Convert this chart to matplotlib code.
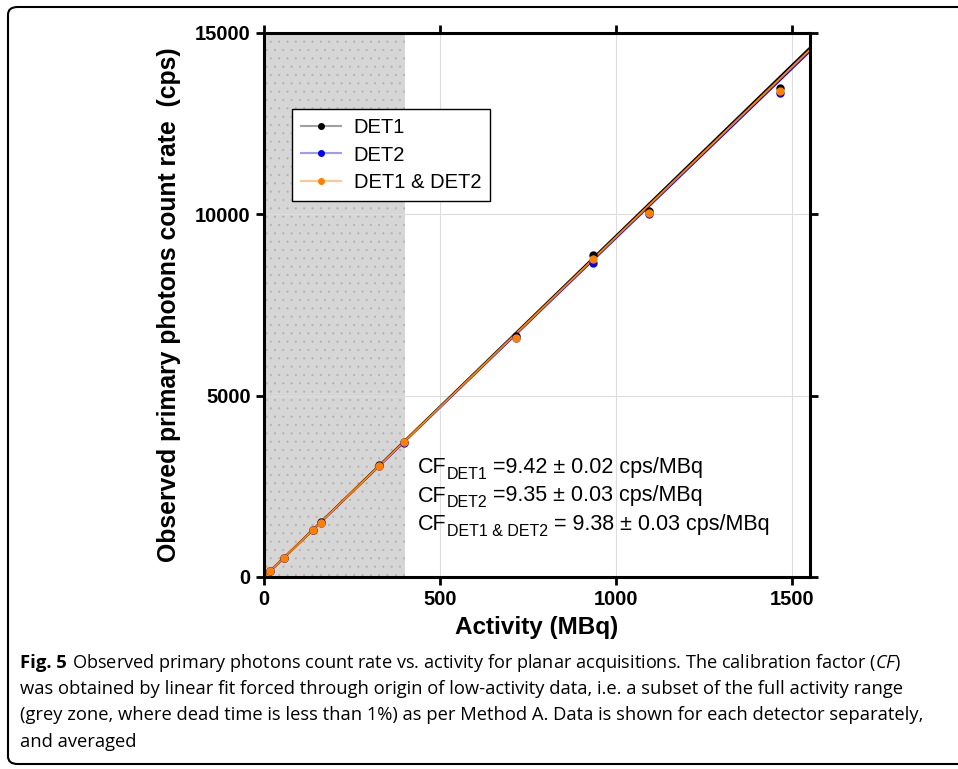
import matplotlib.pyplot as plt
from matplotlib.lines import Line2D
from matplotlib.patches import FancyBboxPatch

plt.rcParams['font.family'] = ['Liberation Sans', 'DejaVu Sans']
plt.rcParams['mathtext.fontset'] = 'custom'
plt.rcParams['mathtext.rm'] = 'Liberation Sans'
plt.rcParams['mathtext.it'] = 'Open Sans:italic'
plt.rcParams['hatch.linewidth'] = 0.3

# Data
activity = [17, 56, 140, 162, 326, 398, 716, 933, 1094, 1465]
det1 = [160, 525, 1300, 1510, 3085, 3735, 6640, 8880, 10100, 13470]
det2 = [155, 515, 1285, 1495, 3060, 3705, 6580, 8665, 10010, 13335]
det12 = [158, 520, 1292, 1502, 3072, 3720, 6600, 8770, 10040, 13400]
cf = {'DET1': 9.42, 'DET2': 9.35, 'DET1 & DET2': 9.38}
cf_text = [('DET1', ' =9.42 ± 0.02 cps/MBq'),
           ('DET2', ' =9.35 ± 0.03 cps/MBq'),
           ('DET1 & DET2', ' = 9.38 ± 0.03 cps/MBq')]
grey_zone = (0, 400)
x_max = 1550
x_ticks = [0, 500, 1000, 1500]
y_ticks = [0, 5000, 10000, 15000]

colors = {'DET1': 'black', 'DET2': 'blue', 'DET1 & DET2': '#ff8000'}
pale = {'DET1': '#a0a0a0', 'DET2': '#9a9aff', 'DET1 & DET2': '#ffc890'}

fig = plt.figure(figsize=(9.58, 7.69), dpi=100)
ax = fig.add_axes([0.2756, 0.2497, 0.5699, 0.7074])

ax.axvspan(*grey_zone, facecolor='#d6d6d6', edgecolor='#b0b0b0', hatch='..', linewidth=0, zorder=0)
ax.grid(True, color='#dddddd', linewidth=0.8, zorder=0.5)

# fit lines through origin
for name in ['DET2', 'DET1', 'DET1 & DET2']:
    ax.plot([0, x_max], [0, cf[name] * x_max], color=colors[name], lw=1.4, zorder=2)
for name, ys in [('DET1', det1), ('DET2', det2), ('DET1 & DET2', det12)]:
    ax.plot(activity, ys, 'o', color=colors[name], ms=5, zorder=3)

ax.set_xlim(0, x_max)
ax.set_ylim(0, 15000)
ax.set_xticks(x_ticks)
ax.set_yticks(y_ticks)
for s in ax.spines.values():
    s.set_linewidth(2.2)
ax.tick_params(direction='out', length=6, width=2, labelsize=14.5, top=True, right=True,
               labeltop=False, labelright=False)
for lab in ax.get_xticklabels() + ax.get_yticklabels():
    lab.set_fontweight('bold')
ax.set_xlabel('Activity (MBq)', fontsize=17.5, fontweight='bold', labelpad=5)
ax.set_ylabel('Observed primary photons count rate  (cps)', fontsize=17.8, fontweight='bold', labelpad=10)

handles = [Line2D([], [], color=pale[n], lw=1.5, marker='o', ms=4,
                  markerfacecolor=colors[n], markeredgecolor=colors[n]) for n in cf]
leg = ax.legend(handles, list(cf), loc='upper left', bbox_to_anchor=(0.033, 0.878),
                fontsize=14.5, frameon=True, fancybox=False, edgecolor='black',
                framealpha=1, handlelength=2.0, borderpad=0.45, labelspacing=0.4,
                handletextpad=0.6)
leg.get_frame().set_linewidth(1.0)

# CF annotations, subscripts placed by hand
renderer = fig.canvas.get_renderer()
W, H = fig.bbox.width, fig.bbox.height
for i, (sub, rest_txt) in enumerate(cf_text):
    x0 = 418 / W
    y0 = 1 - (473 + i * 28.5) / H
    t1 = fig.text(x0, y0, 'CF', fontsize=15.5, va='baseline')
    x1 = t1.get_window_extent(renderer).x1 / W
    t2 = fig.text(x1, y0 - 6 / H, sub, fontsize=11.5, va='baseline')
    x2 = t2.get_window_extent(renderer).x1 / W
    fig.text(x2, y0, rest_txt, fontsize=15.5, va='baseline')

# caption
cap_font = ['Open Sans', 'DejaVu Sans']
fig.text(20 / 958, 1 - 668 / 769, 'Fig. 5', fontsize=13.3, fontweight='bold',
         family=cap_font, va='baseline')
fig.text(72 / 958, 1 - 668 / 769,
         r'Observed primary photons count rate vs. activity for planar acquisitions. The calibration factor ($\mathit{CF}$)',
         fontsize=13.1, family=cap_font, va='baseline')
rest = ['was obtained by linear fit forced through origin of low-activity data, i.e. a subset of the full activity range',
        '(grey zone, where dead time is less than 1%) as per Method A. Data is shown for each detector separately,',
        'and averaged']
for i, line in enumerate(rest):
    fig.text(20 / 958, 1 - (694 + i * 26.5) / 769, line, fontsize=13.2, family=cap_font, va='baseline')

frame = FancyBboxPatch((8 / 958, 5 / 769), 1.2, 1 - 12 / 769,
                       boxstyle='round,pad=0,rounding_size=0.01', transform=fig.transFigure,
                       fill=False, edgecolor='black', linewidth=1.5, clip_on=False)
fig.patches.append(frame)

fig.savefig('out.png', dpi=100)
